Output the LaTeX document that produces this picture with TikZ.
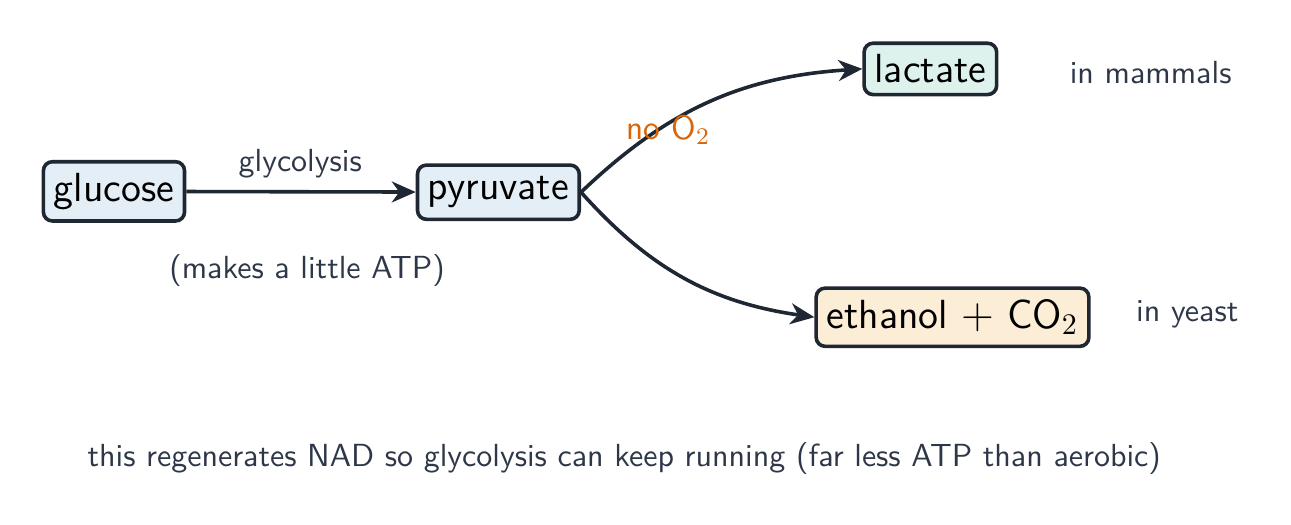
\documentclass[tikz,border=0pt]{standalone}
\usepackage{amsmath,amssymb}
\usepackage{xcolor}
\usepackage{tikz}
\usetikzlibrary{shapes,arrows,positioning,calc,arrows.meta}
\definecolor{inkline}{HTML}{1F2733}
\definecolor{labeltext}{HTML}{2D3748}
\definecolor{noox}{HTML}{D9650B}
\definecolor{fillblue}{HTML}{E4EEF6}
\definecolor{fillgreen}{HTML}{DDF2EC}
\definecolor{fillcream}{HTML}{FBEDD6}
\tikzset{
    mol/.style={draw=inkline, line width=1.2pt, rounded corners=3pt, inner xsep=3.5pt, inner ysep=3.8pt, font=\sffamily\fontsize{13.6}{16}\selectfont, text=black},
    note/.style={font=\sffamily\fontsize{10.7}{13}\selectfont, text=labeltext},
    flow/.style={-{Stealth[length=8pt,width=7pt,inset=2.5pt]}, draw=inkline, line width=1.2pt}
}

\begin{document}
\begin{tikzpicture}
    \useasboundingbox (0,0) rectangle (15.18,-6.17);
    % Glycolysis
    \node[mol, fill=fillblue] (glu) at (1.34,-2.25) {glucose};
    \node[mol, fill=fillblue] (pyr) at (5.86,-2.26) {pyruvate};
    \draw[flow] (glu) -- (pyr);
    \node[note] (glyc) at (3.53,-1.92) {glycolysis};
    \node[note] (atp) at (3.61,-3.18) {(makes a little ATP)};

    % Fermentation products
    \node[mol, fill=fillgreen] (lac) at (10.94,-0.81) {lactate};
    \node[mol, fill=fillcream] (eth) at (11.20,-3.73) {ethanol $+$ CO$_2$};
    \draw[flow] (pyr.east) to[bend left=20] (lac.west);
    \draw[flow] (pyr.east) to[bend right=20] (eth.west);
    \node[note, text=noox, font=\sffamily\fontsize{11.4}{14}\selectfont] (noO) at (7.86,-1.53) {no O$_2$};
    \node[note] (mam) at (13.53,-0.85) {in mammals};
    \node[note] (yst) at (13.96,-3.70) {in yeast};

    \node[note] (nad) at (7.34,-5.39) {this regenerates NAD so glycolysis can keep running (far less ATP than aerobic)};
\end{tikzpicture}
\end{document}
